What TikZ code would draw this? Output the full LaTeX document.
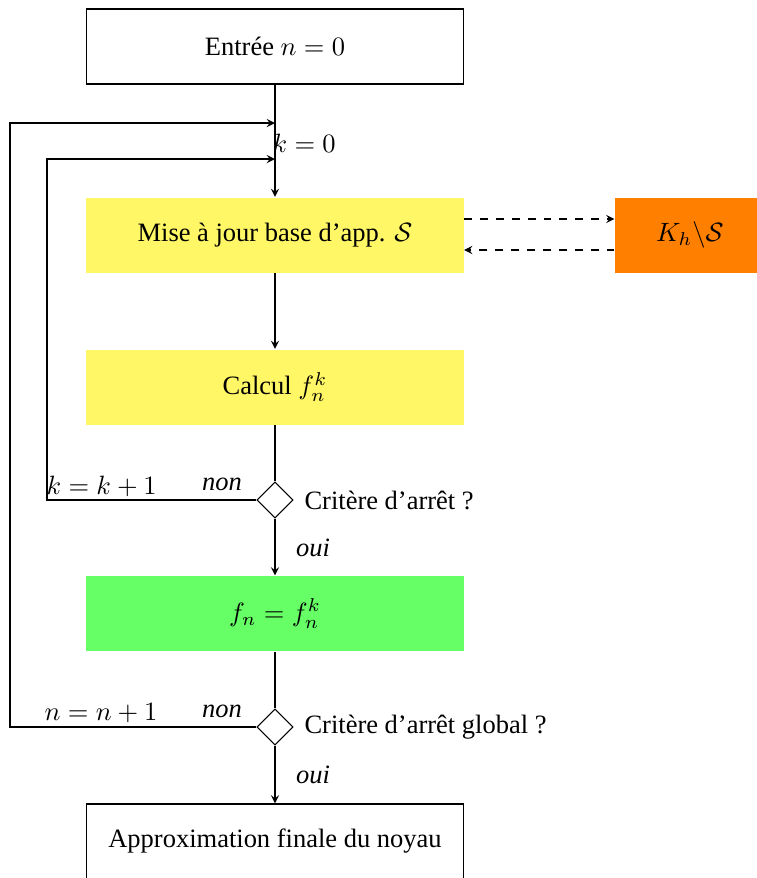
\documentclass[tikz,border=0pt]{standalone}
\usepackage{fontspec}
\setmainfont{Liberation Serif}
\usetikzlibrary{shapes.geometric,arrows.meta}
\tikzset{
  box/.style={rectangle,minimum width=142.3pt,minimum height=28.3pt,inner sep=0pt},
  whitebox/.style={box,draw=black,fill=white},
  ybox/.style={box,fill=yellow!60},
  gbox/.style={box,fill=green!60},
  obox/.style={rectangle,minimum width=56.6pt,minimum height=28.3pt,inner sep=0pt,fill=orange},
  dia/.style={diamond,draw=black,fill=white,minimum width=13.6pt,minimum height=13.6pt,inner sep=0pt},
  arr/.style={-stealth,black,line width=0.4pt},
  lbl/.style={inner sep=0pt}
}
\begin{document}
\begin{tikzpicture}[x=0.3774pt,y=-0.3774pt]
\useasboundingbox (0,0) rectangle (756,878);
\node[whitebox] (in) at (275,46.5) {Entrée $n=0$};
\node[ybox] (maj) at (275,235) {Mise à jour base d'app. $\mathcal{S}$};
\node[obox] (kh) at (690,235) {$K_h\backslash\mathcal{S}$};
\node[ybox] (calc) at (275,387) {Calcul $f_n^k$};
\node[dia] (d1) at (275,500) {};
\node[gbox] (fn) at (275,613.5) {$f_n=f_n^k$};
\node[dia] (d2) at (275,727) {};
\node[whitebox] (fin) at (275,841.5) {Approximation finale du noyau};

\coordinate (o1) at (10,727);
\coordinate (t1) at (275,123);
\coordinate (i1) at (47,500);
\coordinate (t2) at (275,159);

\draw[arr] (in) -- (maj);
\draw[arr] (maj) -- (calc);
\draw (calc) -- (d1);
\draw[arr] (d1) -- (fn);
\draw (fn) -- (d2);
\draw[arr] (d2) -- (fin);

\draw[arr] (d2.west) -- (o1) |- (t1);
\draw[arr] (d1.west) -- (i1) |- (t2);

\draw[arr,dashed] ([yshift=6.04pt]maj.east) -- ([yshift=6.04pt]kh.west);
\draw[arr,dashed] ([yshift=-5.66pt]kh.west) -- ([yshift=-5.66pt]maj.east);

\node[lbl,anchor=west] (k0) at (272,143) {$k=0$};
\node[lbl] (non1) at (222,484) {\textit{non}};
\node[lbl,anchor=west] (kk) at (46,486) {$k=k+1$};
\node[lbl,anchor=west] (c1) at (304,500) {Critère d'arrêt ?};
\node[lbl] (oui1) at (313,548) {\textit{oui}};
\node[lbl] (non2) at (222,711) {\textit{non}};
\node[lbl,anchor=west] (nn) at (44,713) {$n=n+1$};
\node[lbl,anchor=west] (c2) at (304,727) {Critère d'arrêt global ?};
\node[lbl] (oui2) at (313,775) {\textit{oui}};
\end{tikzpicture}
\end{document}
